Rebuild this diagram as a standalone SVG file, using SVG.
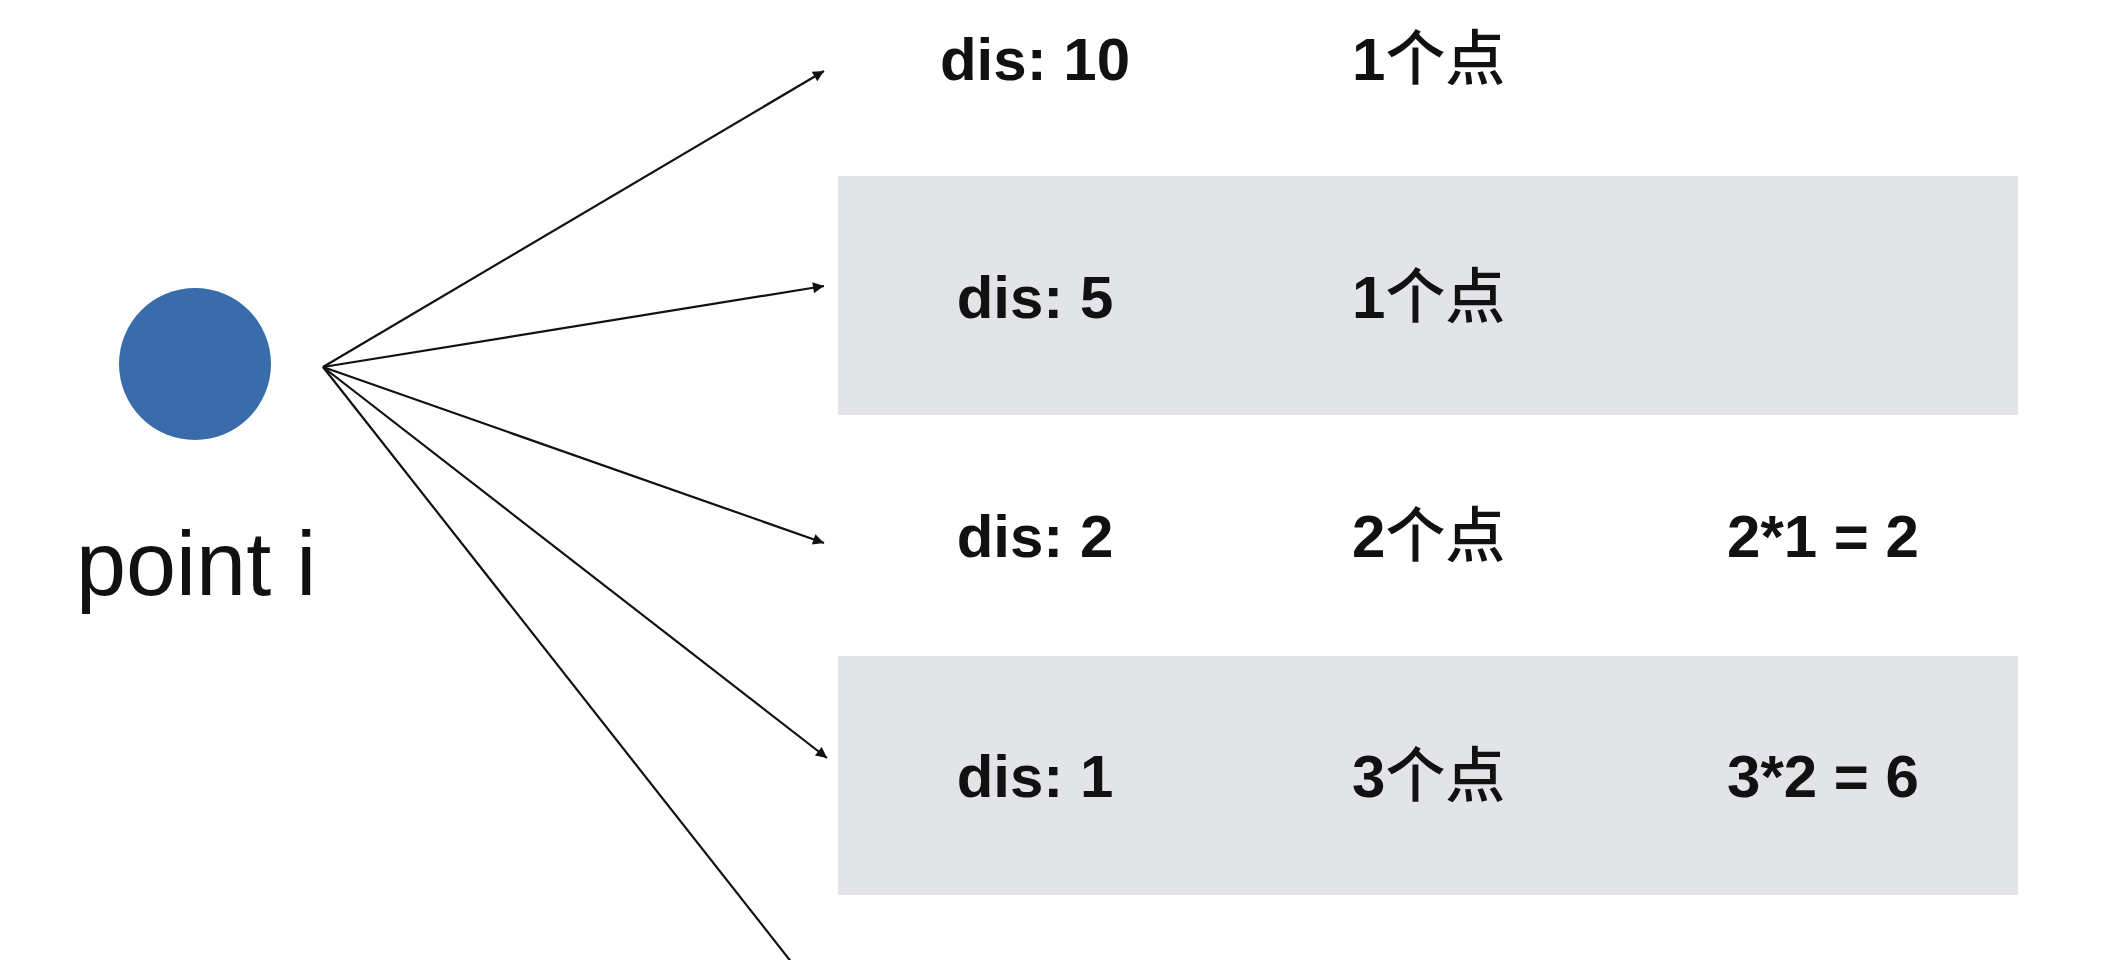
<svg xmlns="http://www.w3.org/2000/svg" width="2110" height="960" viewBox="0 0 2110 960">
<style>
  .band { fill: #e2e4e8; }
  .lbl { font-family: "Liberation Sans", Arial, "Noto Sans CJK SC", sans-serif; font-weight: bold; font-size: 60px; fill: #111; }
  .cjk { font-family: "Noto Sans CJK SC", sans-serif; font-weight: 500; }
  .mid { text-anchor: middle; }
  .conn { stroke: #111; stroke-width: 2.2; fill: none; }
  .pt { font-family: "Liberation Sans", Arial, sans-serif; font-size: 90px; fill: #111; }
</style>
<defs>
  <marker id="arrow" viewBox="0 0 10 10" refX="10" refY="5" markerWidth="6" markerHeight="5" markerUnits="strokeWidth" orient="auto">
    <path d="M0,0 L10,5 L0,10 z" fill="#111"/>
  </marker>
</defs>
<rect width="2110" height="960" fill="#ffffff"/>
<g id="band-row2"><rect class="band" x="838" y="176" width="1180" height="239"/></g>
<g id="band-row4"><rect class="band" x="838" y="656" width="1180" height="239"/></g>
<g id="point-i">
  <circle cx="195" cy="364" r="76" fill="#3a6cac"/>
  <text class="pt" x="76" y="595">point i</text>
</g>
<g id="connectors">
  <line class="conn" x1="323" y1="367" x2="824" y2="71" marker-end="url(#arrow)"/>
  <line class="conn" x1="323" y1="367" x2="824" y2="286" marker-end="url(#arrow)"/>
  <line class="conn" x1="323" y1="367" x2="824" y2="543" marker-end="url(#arrow)"/>
  <line class="conn" x1="323" y1="367" x2="827" y2="758" marker-end="url(#arrow)"/>
  <line class="conn" x1="323" y1="367" x2="796" y2="968"/>
</g>
<g id="row1">
  <text class="lbl mid" x="1035" y="80">dis: 10</text>
  <text class="lbl" x="1352" y="80">1<tspan class="cjk">个点</tspan></text>
</g>
<g id="row2">
  <text class="lbl mid" x="1035" y="318">dis: 5</text>
  <text class="lbl" x="1352" y="318">1<tspan class="cjk">个点</tspan></text>
</g>
<g id="row3">
  <text class="lbl mid" x="1035" y="557">dis: 2</text>
  <text class="lbl" x="1352" y="557">2<tspan class="cjk">个点</tspan></text>
  <text class="lbl mid" x="1823" y="557">2*1 = 2</text>
</g>
<g id="row4">
  <text class="lbl mid" x="1035" y="797">dis: 1</text>
  <text class="lbl" x="1352" y="797">3<tspan class="cjk">个点</tspan></text>
  <text class="lbl mid" x="1823" y="797">3*2 = 6</text>
</g>
</svg>
